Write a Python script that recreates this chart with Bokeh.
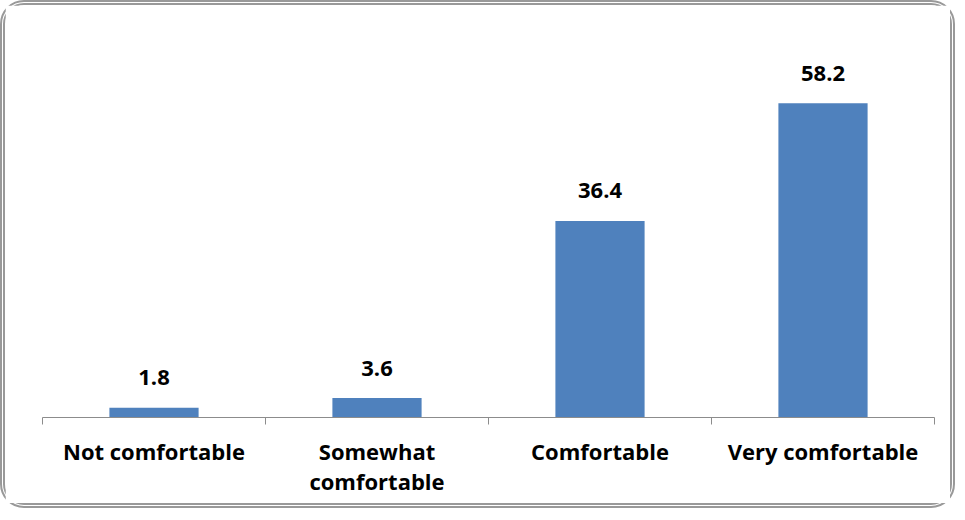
from bokeh.plotting import figure
from bokeh.models import ColumnDataSource, FixedTicker, Range1d
from bokeh.core.properties import value
from bokeh.embed import file_html
from bokeh.resources import INLINE

categories = ["Not comfortable", "Somewhat\ncomfortable", "Comfortable", "Very comfortable"]
values = [1.8, 3.6, 36.4, 58.2]

n = len(categories)
centers = [i + 0.5 for i in range(n)]
labels = [f"{v}" for v in values]

src = ColumnDataSource(dict(x=centers, top=values, label=labels))

p = figure(width=955, height=508, output_backend="svg", toolbar_location=None,
           x_range=Range1d(0, n), y_range=Range1d(0, 70),
           min_border_left=37, min_border_right=26, min_border_top=34, min_border_bottom=96)
p.styles = {"border": "5px double #999999", "border-radius": "24px", "box-sizing": "border-box"}

p.vbar(x="x", top="top", width=0.4, source=src, color="#4F81BD", line_color=None)
p.text(x="x", y="top", text="label", source=src, text_align="center",
       text_baseline="alphabetic", y_offset=-30,
       text_font=value("Open Sans"), text_font_style="bold", text_font_size="22px",
       text_color="#000000")

p.xgrid.visible = False
p.ygrid.visible = False
p.yaxis.visible = False
p.outline_line_color = None

ax = p.xaxis[0]
ax.ticker = FixedTicker(ticks=centers, minor_ticks=list(range(n + 1)))
ax.major_label_overrides = {c: lab for c, lab in zip(centers, categories)}
ax.major_tick_line_color = None
ax.major_tick_out = 0
ax.major_tick_in = 0
ax.minor_tick_line_color = "#8c8c8c"
ax.minor_tick_out = 7
ax.minor_tick_in = 0
ax.axis_line_color = "#8c8c8c"
ax.major_label_standoff = 11
ax.major_label_text_font = "Open Sans"
ax.major_label_text_font_style = "bold"
ax.major_label_text_font_size = "22px"
ax.major_label_text_line_height = 1.0
ax.major_label_text_color = "#000000"

open("out.html", "w").write(file_html(p, INLINE))
